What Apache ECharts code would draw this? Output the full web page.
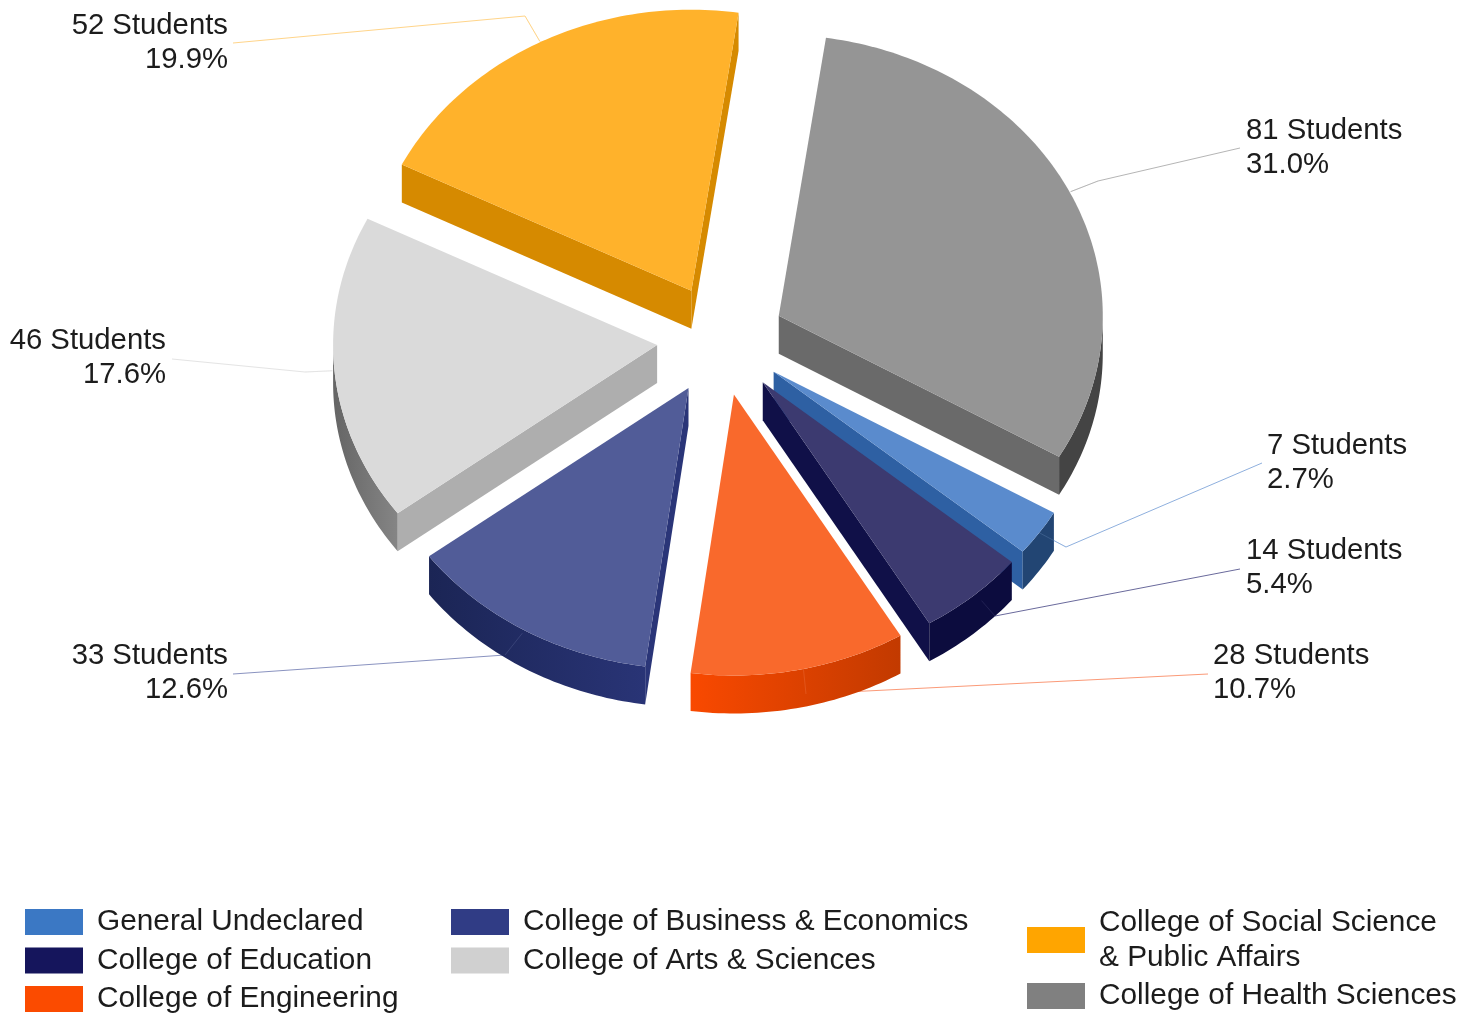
<!DOCTYPE html>
<html>
<head>
<meta charset="utf-8">
<script src="https://cdn.jsdelivr.net/npm/echarts@6/dist/echarts.min.js"></script>
<style>html,body{margin:0;padding:0;background:#fff}#c{width:1474px;height:1015px}</style>
</head>
<body>
<div id="c"></div>
<script>
// ---- data ----
const categories = ['General Undeclared','College of Education','College of Engineering','College of Business & Economics','College of Arts & Sciences','College of Social Science\n& Public Affairs','College of Health Sciences'];
const students = [7,14,28,33,46,52,81];
const percentLabels = ['2.7%','5.4%','10.7%','12.6%','17.6%','19.9%','31.0%'];
// ---- styles ----
const legendColors = ['#3b78c4','#15155c','#fb4b00','#303c85','#d0d0d0','#ffa500','#808080'];
const topColors    = ['#5a8bcd','#3c3a70','#f9692c','#515c98','#dadada','#ffb22b','#959595'];
const radialColors = ['#2e60a3','#101048','#c23a00','#2a3578','#aeaeae','#d68a00','#6a6a6a'];
const arcColorsL   = ['#224573','#0c0c3e','#f94900','#1b2555','#656565','#d68a00','#444444'];
const arcColorsR   = ['#224573','#0c0c3e','#c23a00','#293476','#858585','#d68a00','#444444'];
const lineColors   = ['#8fb0de','#6a6a9c','#fb9a78','#8a93c0','#e4e4e4','#ffd58a','#b5b5b5'];
// ---- layout ----
const FONT = '"Liberation Sans", Arial, sans-serif';
const LABEL_SIZE = 29.3, LEGEND_SIZE = 29.8;
const CX = 721, CY = 340, RX = 324, RY = 281, DEPTH = 38, EXPLODE = 0.198, START_DEG = 120.1;
const labelLayout = [
  {x:1267,y:463,align:'left',  nudge:[0,0],  elbow:[1066,547],end:[1262,463]},
  {x:1246,y:568,align:'left',  nudge:[8,5],  elbow:[995,616], end:[1240,569]},
  {x:1213,y:673,align:'left',  nudge:[4,-3], elbow:[806,694], end:[1208,674]},
  {x:228, y:673,align:'right', nudge:[-2,3], elbow:[505,655], end:[233,674]},
  {x:166, y:358,align:'right', nudge:[-2,1], elbow:[305,372], end:[172,359]},
  {x:228, y:43, align:'right', nudge:[-2,0], elbow:[525,16],  end:[233,43]},
  {x:1246,y:148,align:'left',  nudge:[0,-2], elbow:[1098,181],end:[1240,148]}
];

const total = students.reduce((a,b)=>a+b,0);
const rad = d => d*Math.PI/180;
const pt = (cx,cy,deg) => [cx+RX*Math.sin(rad(deg)), cy-RY*Math.cos(rad(deg))];

function sliceAngles(i){
  let a = START_DEG;
  for(let k=0;k<i;k++) a += students[k]/total*360;
  return [a, a+students[i]/total*360];
}
function arcPts(cx,cy,a0,a1){
  const out=[]; const n=Math.max(2,Math.ceil(a1-a0));
  for(let k=0;k<=n;k++) out.push(pt(cx,cy,a0+(a1-a0)*k/n));
  return out;
}
function wall(p,q,fill){
  return {type:'polygon',shape:{points:[p,q,[q[0],q[1]+DEPTH],[p[0],p[1]+DEPTH]]},style:{fill:fill},silent:true};
}
function renderSlice(params){
  const i = params.seriesIndex;
  const [a0,a1] = sliceAngles(i);
  const mid=(a0+a1)/2;
  const cx=CX+EXPLODE*RX*Math.sin(rad(mid)), cy=CY-EXPLODE*RY*Math.cos(rad(mid));
  const apex=[cx,cy];
  const arc=arcPts(cx,cy,a0,a1);
  const first=arc[0], last=arc[arc.length-1];
  const L=labelLayout[i];
  const anc=pt(cx,cy,mid);
  const anchor=[anc[0]+L.nudge[0],anc[1]+L.nudge[1]];
  const kids=[];
  // leader line, underneath the slice
  kids.push({type:'polyline',shape:{points:[anchor,L.elbow,L.end]},
    style:{stroke:lineColors[i],lineWidth:1,fill:null},silent:true});
  // radial walls facing the viewer
  if(first[0]<apex[0]) kids.push(wall(apex,first,radialColors[i]));
  if(last[0]>apex[0])  kids.push(wall(last,apex,radialColors[i]));
  // curved wall: only the lower half of the rim faces the viewer
  [[90,270],[450,630]].forEach(r=>{
    const lo=Math.max(a0,r[0]), hi=Math.min(a1,r[1]);
    if(hi<=lo) return;
    const rim=arcPts(cx,cy,lo,hi);
    const down=rim.slice().reverse().map(p=>[p[0],p[1]+DEPTH]);
    const xs=rim.map(p=>p[0]);
    kids.push({type:'polygon',shape:{points:rim.concat(down)},silent:true,style:{fill:{
      type:'linear',global:true,x:Math.min(...xs),y:0,x2:Math.max(...xs),y2:0,
      colorStops:[{offset:0,color:arcColorsL[i]},{offset:1,color:arcColorsR[i]}]}}});
  });
  // faint trace of the leader across the wall
  kids.push({type:'polyline',shape:{points:[anchor,L.elbow]},
    style:{stroke:lineColors[i],lineWidth:1,fill:null,opacity:0.22},silent:true});
  // top face
  kids.push({type:'polygon',shape:{points:[apex].concat(arc)},style:{fill:topColors[i]},silent:true});
  // label
  kids.push({type:'text',silent:true,style:{x:L.x,y:L.y,text:students[i]+' Students\n'+percentLabels[i],
    fontSize:LABEL_SIZE,fontFamily:FONT,fill:'#1c1c1c',align:L.align,verticalAlign:'middle',lineHeight:34}});
  return {type:'group',children:kids};
}

const series = categories.map((name,i)=>({
  type:'custom',name:name,coordinateSystem:'none',silent:true,
  itemStyle:{color:legendColors[i]},
  renderItem:renderSlice,data:[[students[i]]],animation:false,clip:false
}));
const legendBase = {orient:'vertical',icon:'rect',itemWidth:58,itemHeight:26,itemGap:0.5,selectedMode:false,padding:0,height:300,
  textStyle:{fontSize:LEGEND_SIZE,fontFamily:FONT,color:'#1c1c1c',lineHeight:35,padding:[3,0,0,9]}};
const chart = echarts.init(document.getElementById('c'),null,{renderer:'canvas'});
chart.setOption({
  backgroundColor:'#fff',animation:false,
  legend:[
    Object.assign({},legendBase,{left:25,top:903,data:categories.slice(0,3)}),
    Object.assign({},legendBase,{left:451,top:903,data:categories.slice(3,5)}),
    Object.assign({},legendBase,{left:1027,top:903.5,data:[categories[5],categories[6]]})
  ],
  series:series
});
</script>
</body>
</html>
